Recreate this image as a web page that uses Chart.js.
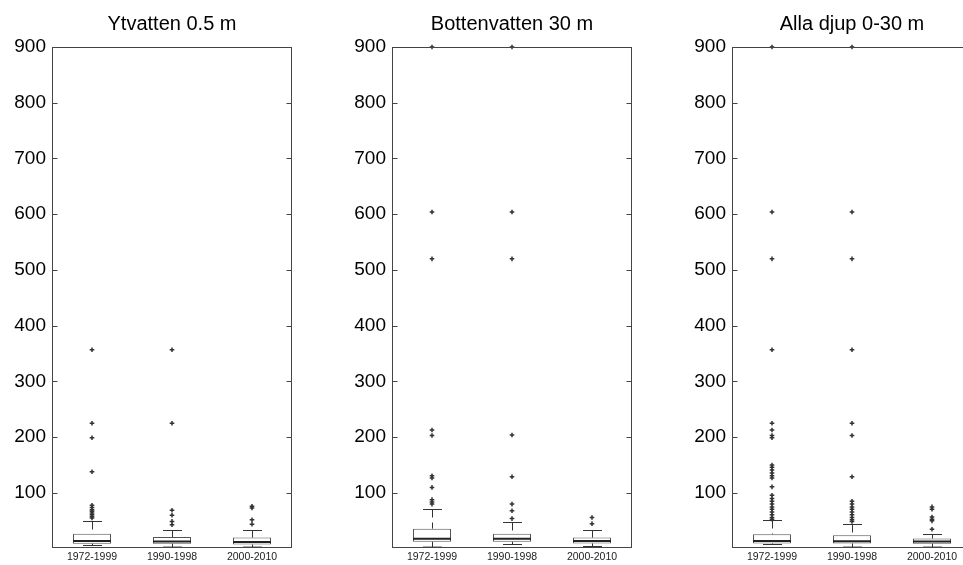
<!doctype html><html lang="sv"><head>
<meta charset="UTF-8"><title>Boxplot djup</title>
<script src="https://cdn.jsdelivr.net/npm/chart.js"></script>
<style>
 html,body{margin:0;background:#fff;overflow:hidden}
 body{width:963px;height:565px;position:relative}
 canvas{position:absolute;top:0}
</style></head><body>
<canvas id="p1" width="300" height="565" style="left:0"></canvas>
<canvas id="p2" width="300" height="565" style="left:340px"></canvas>
<canvas id="p3" width="300" height="565" style="left:680px"></canvas>
<script>
// ----- data -----
const periods = ['1972-1999','1990-1998','2000-2010'];
const yTicks  = [100,200,300,400,500,600,700,800,900];
const yMin = 2, yMax = 900;

// Ytvatten 0.5 m
const surfLow  = [6, 2, 2];
const surfQ1   = [9, 9, 7.5];
const surfMed  = [14, 13, 12];
const surfQ3   = [27, 21, 20];
const surfHigh = [50, 33, 33];
const surfOut  = [
  [357,225,199,138,78,74,70,67,64,61,58,55],
  [357,225,69,60,49,43],
  [76,73,52,44]
];

// Bottenvatten 30 m
const bottLow  = [2, 8, 5];
const bottQ1   = [12.5, 12.5, 9.5];
const bottMed  = [18, 18, 14];
const bottQ3   = [36, 27, 20];
const bottHigh = [72, 48, 33];
const bottOut  = [
  [900,604,520,213,203,131,127,110,88,84,80],
  [900,604,520,204,129,80,68,54],
  [56,45]
];

// Alla djup 0-30 m
const allLow  = [8, 2, 2];
const allQ1   = [9.4, 9.4, 9];
const allMed  = [14, 13.6, 13];
const allQ3   = [26, 24, 18.4];
const allHigh = [51, 45, 27];
const allOut  = [
  [900,604,520,357,225,213,203,199,150,146,141,136,131,127,111,96,90,85,80,75,71,66,61,56,53],
  [900,604,520,357,225,203,129,85,80,75,71,66,61,56,52,49],
  [75,71,57,53,50,35]
];

const FONT = '"Liberation Sans", Arial, Helvetica, sans-serif';

// whiskers, caps and medians on top of the floating-bar boxes
const whiskerPlugin = {
  id:'whiskers',
  afterDatasetsDraw(chart, args, opts){
    const {ctx, scales:{y}} = chart;
    const meta = chart.getDatasetMeta(0);
    ctx.save();
    meta.data.forEach((bar,i)=>{
      const cx = Math.round(bar.x)+0.5;
      const half = bar.width/2, cap = half/2;
      const pQ1 = y.getPixelForValue(opts.q1[i]);
      const pQ3 = y.getPixelForValue(opts.q3[i]);
      const pHi = Math.round(y.getPixelForValue(opts.high[i]))+0.5;
      const pLo = Math.min(Math.round(y.getPixelForValue(opts.low[i]))+0.5, chart.chartArea.bottom-0.5);
      const pMed = y.getPixelForValue(opts.med[i]);

      ctx.strokeStyle = '#333'; ctx.lineWidth = 1;
      ctx.setLineDash([8,5]);
      ctx.beginPath();
      ctx.moveTo(cx,pHi); ctx.lineTo(cx,pQ3);
      ctx.moveTo(cx,pLo); ctx.lineTo(cx,pQ1);
      ctx.stroke();
      ctx.setLineDash([]);
      ctx.beginPath();
      ctx.moveTo(cx-cap,pHi); ctx.lineTo(cx+cap,pHi);
      ctx.moveTo(cx-cap,pLo); ctx.lineTo(cx+cap,pLo);
      ctx.stroke();

      ctx.strokeStyle = '#222'; ctx.lineWidth = 2;
      ctx.beginPath();
      ctx.moveTo(bar.x-half,pMed); ctx.lineTo(bar.x+half,pMed);
      ctx.stroke();
    });
    ctx.restore();
  }
};

// axes box with inward ticks on both sides
const framePlugin = {
  id:'frame',
  afterDraw(chart){
    const {ctx, chartArea:{left,right,top,bottom}, scales:{y}} = chart;
    const L = Math.round(left)+0.5, R = Math.round(right)-0.5;
    const T = Math.round(top)+0.5, B = Math.round(bottom)-0.5;
    ctx.save();
    ctx.strokeStyle = '#444'; ctx.lineWidth = 1;
    ctx.strokeRect(L,T,R-L,B-T);
    ctx.beginPath();
    yTicks.forEach(v=>{
      const p = Math.round(y.getPixelForValue(v))+0.5;
      ctx.moveTo(L,p); ctx.lineTo(L+5,p);
      ctx.moveTo(R,p); ctx.lineTo(R-5,p);
    });
    ctx.stroke();
    ctx.restore();
  }
};

function makePanel(id, title, low, q1, med, q3, high, out){
  const points = [];
  out.forEach((arr,i)=>arr.forEach(v=>points.push({x:periods[i], y:v})));
  return new Chart(document.getElementById(id),{
    type:'bar',
    data:{
      labels:periods,
      datasets:[
        {data:q1.map((v,i)=>[v,q3[i]]), backgroundColor:'#fff', borderColor:'#555',
         borderWidth:1, borderSkipped:false, barPercentage:0.475, categoryPercentage:1},
        {type:'line', data:points, showLine:false, clip:false, pointStyle:'cross',
         pointRadius:2.3, pointBorderWidth:1.5, borderColor:'#333', backgroundColor:'#333'}
      ]
    },
    options:{
      responsive:false, animation:false, devicePixelRatio:1,
      layout:{padding:{left:0,right:8,top:0,bottom:0}},
      plugins:{
        legend:{display:false}, tooltip:{enabled:false},
        title:{display:true, fullSize:false, text:title, color:'#000',
               font:{family:FONT,size:20,weight:'normal'}, padding:{top:12,bottom:11}},
        whiskers:{low, q1, med, q3, high}
      },
      scales:{
        x:{grid:{display:false,drawTicks:false}, border:{display:false},
           ticks:{font:{family:FONT,size:10.5}, color:'#222', padding:3, maxRotation:0, autoSkip:false},
           afterFit:s=>{s.height = 16;}},
        y:{min:yMin, max:yMax,
           grid:{display:false,drawTicks:false}, border:{display:false},
           ticks:{font:{family:FONT,size:19}, color:'#000', padding:6},
           afterBuildTicks:s=>{s.ticks = yTicks.map(v=>({value:v}));},
           afterFit:s=>{s.width = 52;}}
      }
    },
    plugins:[whiskerPlugin, framePlugin]
  });
}

makePanel('p1','Ytvatten 0.5 m', surfLow, surfQ1, surfMed, surfQ3, surfHigh, surfOut);
makePanel('p2','Bottenvatten 30 m', bottLow, bottQ1, bottMed, bottQ3, bottHigh, bottOut);
makePanel('p3','Alla djup 0-30 m', allLow, allQ1, allMed, allQ3, allHigh, allOut);
</script>
</body></html>
